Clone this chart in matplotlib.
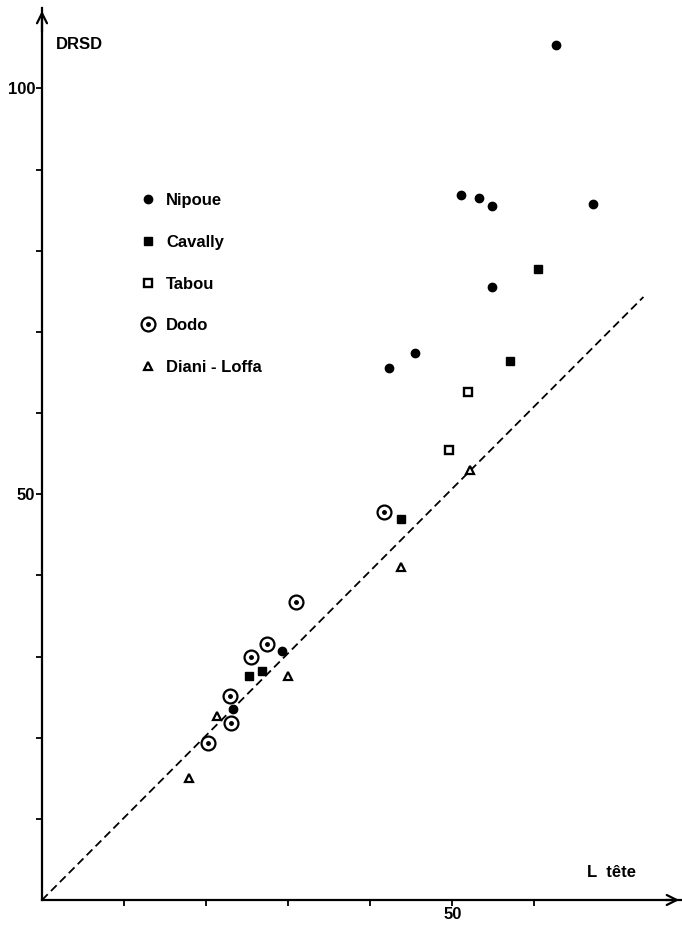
import matplotlib
matplotlib.use("Agg")
import matplotlib.pyplot as plt
from matplotlib.legend_handler import HandlerTuple

plt.rcParams['font.family'] = ['Liberation Sans', 'DejaVu Sans']

# L tete (x) / DRSD (y) par bassin
nipoue_x = [62.6, 51.1, 53.2, 54.9, 67.1, 54.9, 42.3, 45.4, 29.3, 23.3]
nipoue_y = [105.4, 86.9, 86.5, 85.5, 85.7, 75.5, 65.5, 67.4, 30.7, 23.5]

cavally_x = [60.5, 57.0, 43.8, 25.2, 26.8]
cavally_y = [77.7, 66.4, 47.0, 27.6, 28.2]

tabou_x = [51.9, 49.6]
tabou_y = [62.6, 55.5]

dodo_x = [41.7, 31.0, 27.4, 25.5, 22.9, 23.0, 20.2]
dodo_y = [47.8, 36.7, 31.5, 30.0, 25.1, 21.8, 19.3]

diani_x = [52.2, 43.8, 30.0, 21.3, 17.9]
diani_y = [53.0, 41.0, 27.6, 22.7, 15.0]

# droite de reference
line_x = [0, 73.3]
line_y = [0, 74.3]

xticks = [10, 20, 30, 40, 50, 60]
yticks = [10, 20, 30, 40, 50, 60, 70, 80, 90, 100]


def main():
    fig = plt.figure(figsize=(6.82, 9.27), dpi=100)
    ax = fig.add_axes([42 / 682, 27 / 927, 640 / 682, 892 / 927])
    ax.set_xlim(0, 78)
    ax.set_ylim(0, 109.9)

    for s in ['top', 'right']:
        ax.spines[s].set_visible(False)
    for s in ['left', 'bottom']:
        ax.spines[s].set_linewidth(1.6)

    # fleches des axes
    ax.annotate('', xy=(1.0, 0), xytext=(0.97, 0), xycoords='axes fraction',
                arrowprops=dict(arrowstyle='->', lw=1.6, mutation_scale=18))
    ax.annotate('', xy=(0, 1.0), xytext=(0, 0.97), xycoords='axes fraction',
                arrowprops=dict(arrowstyle='->', lw=1.6, mutation_scale=18))

    ax.plot(line_x, line_y, color='black', lw=1.3, ls=(0, (4.5, 2.5)))

    ms = dict(color='black', ls='none')
    h1, = ax.plot(nipoue_x, nipoue_y, marker='o', markersize=6, **ms)
    h2, = ax.plot(cavally_x, cavally_y, marker='s', markersize=6, **ms)
    h3, = ax.plot(tabou_x, tabou_y, marker='s', markersize=5.5,
                  markerfacecolor='white', markeredgewidth=1.7, **ms)
    h4a, = ax.plot(dodo_x, dodo_y, marker='o', markersize=10,
                   markerfacecolor='white', markeredgewidth=1.6, **ms)
    h4b, = ax.plot(dodo_x, dodo_y, marker='o', markersize=2.5, **ms)
    h5, = ax.plot(diani_x, diani_y, marker='^', markersize=6,
                  markerfacecolor='white', markeredgewidth=1.6, **ms)

    ax.legend([h1, h2, h3, (h4a, h4b), h5],
              ['Nipoue', 'Cavally', 'Tabou', 'Dodo', 'Diani - Loffa'],
              handler_map={tuple: HandlerTuple(ndivide=1, pad=0)},
              loc='upper left', bbox_to_anchor=(131 / 682, 1 - 185 / 927),
              bbox_transform=fig.transFigure, frameon=False,
              handlelength=1.0, handletextpad=0.6, borderpad=0,
              labelspacing=1.6, prop=dict(size=12, weight='bold'))

    ax.set_xticks(xticks)
    ax.set_yticks(yticks)
    ax.set_xticklabels(['' if t != 50 else '50' for t in xticks])
    ax.set_yticklabels(['' if t not in (50, 100) else str(t) for t in yticks])
    ax.tick_params(direction='out', length=4, width=1.3, labelsize=12, pad=1)
    for lab in ax.get_xticklabels() + ax.get_yticklabels():
        lab.set_fontweight('bold')

    ax.text(0.022, 0.959, 'DRSD', transform=ax.transAxes, fontsize=12,
            fontweight='bold', va='center')
    ax.text(0.852, 0.031, 'L  tête', transform=ax.transAxes, fontsize=12,
            fontweight='bold', va='center')

    fig.savefig('out.png', dpi=100)


if __name__ == "__main__":
    main()
